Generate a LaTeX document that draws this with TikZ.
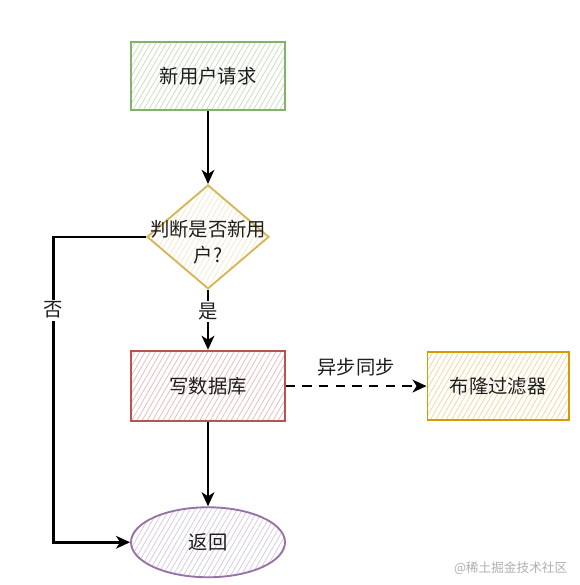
\documentclass[tikz,border=0pt]{standalone}
\usepackage{fontspec}
\setmainfont{Noto Sans CJK SC}
\usetikzlibrary{arrows.meta,positioning,shapes.geometric,patterns.meta}
\definecolor{ink}{RGB}{0,0,0}
\definecolor{txt}{RGB}{30,30,30}
\definecolor{startC}{RGB}{130,179,102}
\definecolor{askC}{RGB}{214,182,86}
\definecolor{dbC}{RGB}{184,84,80}
\definecolor{bloomC}{RGB}{215,155,0}
\definecolor{endC}{RGB}{150,115,166}
\definecolor{wmark}{RGB}{175,175,175}
\tikzset{
  hatch/.style={preaction={pattern={Lines[angle=60,distance=3.4pt,line width=0.55pt]},
    pattern color=#1}},
  box/.style={draw,line width=1.4pt,minimum width=116pt,minimum height=51pt,inner sep=0pt,
    text=txt,font=\fontsize{14.5}{19}\selectfont},
  ask/.style={diamond,draw=askC,line width=1.4pt,minimum width=91.5pt,minimum height=78pt,
    inner sep=0pt,hatch=askC!30},
  term/.style={ellipse,draw=endC,line width=1.4pt,minimum width=115.5pt,minimum height=52.5pt,
    inner sep=0pt,hatch=endC!40,text=txt,font=\fontsize{14.5}{19}\selectfont},
  arr/.style={-{Stealth[length=10.5pt,width=9.5pt,inset=3pt]},line width=2pt,ink},
  lbl/.style={fill=white,inner sep=1.5pt,text=txt,font=\fontsize{14.5}{19}\selectfont},
}

\begin{document}
\begin{tikzpicture}[node distance=55pt]
\useasboundingbox (0,0) rectangle (435pt,-438.75pt);
% steps
\node[box,draw=startC,hatch=startC!45] (new) at (156pt,-57pt) {新用户请求};
\node[ask,below=54.75pt of new] (ask)
  {};
\node[align=center,text=txt,font=\fontsize{14.5}{19.5}\selectfont] (askT) at ([yshift=-4pt]ask.center)
  {判断是否新用\\户?};
\node[box,draw=dbC,hatch=dbC!40,below=45pt of ask,minimum width=115pt,minimum height=53pt] (db) {写数据库};
\node[box,draw=bloomC,hatch=bloomC!40,right=105.75pt of db,minimum width=106pt] (bloom) {布隆过滤器};
\node[term,below=63pt of db] (ret) {返回};
\coordinate (nx) at (40pt,0);

% watermark
\node[font=\fontsize{9.5}{12}\selectfont,text=wmark] (wm) at (383pt,-426pt) {@稀土掘金技术社区};

% edges
\draw[arr] (new) -- (ask);
\draw[arr] (ask) -- node[lbl,pos=0.36] {是} (db);
\draw[arr] (db) -- (ret);
\draw[arr,dash pattern=on 7pt off 5.5pt] (db) -- node[lbl,above=5pt,fill=none] {异步同步} (bloom);
\draw[arr] (ask.west) -| node[lbl,pos=0.62] {否} (nx |- ret.west) -- (ret.west);
\end{tikzpicture}
\end{document}
